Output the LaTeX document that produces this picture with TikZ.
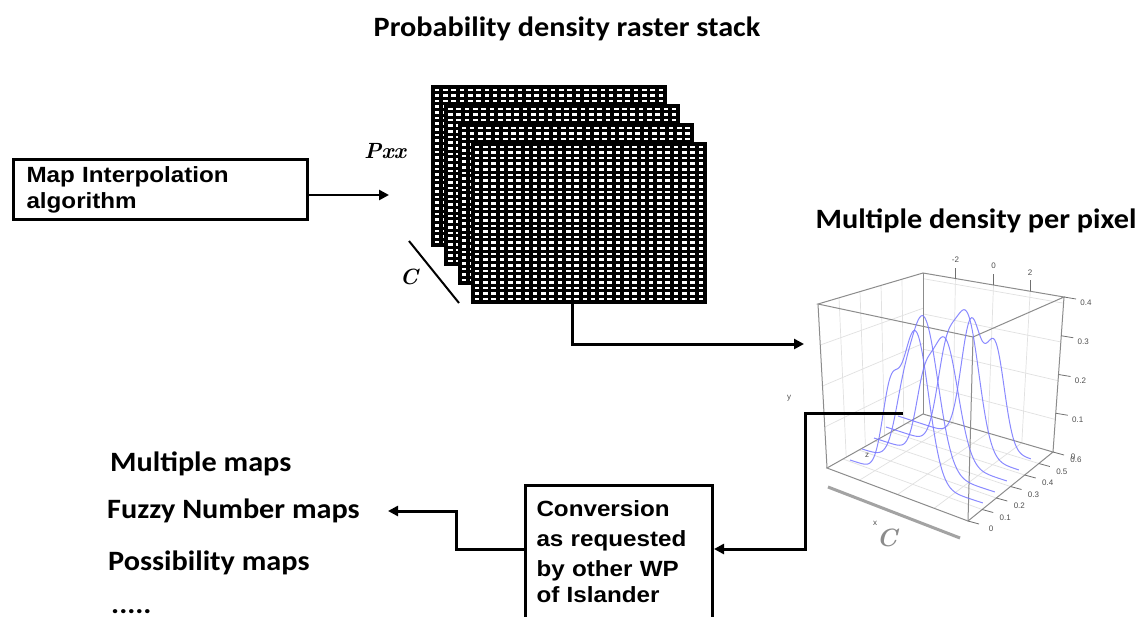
\documentclass[tikz,border=0pt]{standalone}
\usepackage{fontspec}
\usetikzlibrary{arrows.meta,calc}
\newfontfamily\boxfont{Liberation Sans}[FakeStretch=1.1]
\newfontfamily\headfont{Carlito}[FakeStretch=1.08]
\newfontfamily\tickfont{Liberation Sans}
\definecolor{curveblue}{RGB}{118,118,255}
\definecolor{edgegray}{RGB}{140,140,140}
\definecolor{gridgray}{RGB}{225,225,225}
\definecolor{ticktext}{RGB}{80,80,80}
\tikzset{
  head/.style={font=\headfont\bfseries\fontsize{28}{32}\selectfont, inner sep=0pt},
  procbox/.style={draw, line width=3pt, font=\boxfont\bfseries\fontsize{22}{26}\selectfont,
                  align=left, anchor=north west},
  flow/.style={line width=3pt, -{Triangle[length=10pt,width=10pt]}},
  gridl/.style={gridgray, line width=0.7pt},
  edge/.style={edgegray, line width=1pt},
  tick/.style={edgegray!80!black, line width=0.8pt},
  ticklab/.style={font=\tickfont\fontsize{8}{9}\selectfont, text=ticktext, inner sep=0pt},
  curve/.style={curveblue, line width=1pt, opacity=0.85},
  mathlab/.style={font=\bfseries\itshape\fontsize{22}{24}\selectfont, inner sep=0pt},
}
\begin{document}
\begin{tikzpicture}[x=1pt,y=-1pt]
\path[use as bounding box, clip] (0,0) rectangle (1142,616);
\fill[white] (0,0) rectangle (1142,616);

% ---- headings ----
\node[head] (title) at (567,29) {Probability density raster stack};
\node[head] (plottitle) at (976,221) {Multiple density per pixel};

% ---- interpolation box ----
\node[procbox, minimum width=293pt, minimum height=60pt, text width=268pt,
      inner xsep=13pt, inner ysep=4pt] (map) at (12,158)
  {\baselineskip=27pt Map Interpolation\\algorithm};
\coordinate (stackin) at (389,195);
\draw[flow, line width=2.5pt] (map.east |- stackin) -- (stackin);

% ---- raster stack: four gridded sheets ----
\foreach \k in {0,...,3}{
  \pgfmathsetmacro\xa{433+13.33*\k}
  \pgfmathsetmacro\ya{87+19*\k}
  \fill[white] (\xa,\ya) rectangle ++(232,158);
  \foreach \i in {0,...,28}
    \draw[line width=3.6pt] ({\xa+\i*232/28},\ya) -- ++(0,158);
  \foreach \j in {0,...,28}
    \draw[line width=3pt] (\xa,{\ya+\j*158/28}) -- ++(232,0);
  \draw[line width=4pt] (\xa,\ya) rectangle ++(232,158);
}
\node[mathlab] (pxx) at (385,151) {Pxx};
\node[mathlab] (clab) at (409,277) {C};
\coordinate (ca) at (409,241);
\coordinate (cb) at (459,303);
\draw[line width=2pt] (ca) -- (cb);

% ---- connector from a pixel to the density plot ----
\coordinate (pix) at (572,207);
\coordinate (plotin) at (804,344);
\draw[flow] (pix) |- (plotin);

% ---- 3D density plot ----
\coordinate (LT) at (818,304);
\coordinate (BT) at (923,273);
\coordinate (RT) at (1064,297);
\coordinate (FT) at (973,337);
\coordinate (LB) at (827,468);
\coordinate (BB) at (923,414);
\coordinate (RB) at (1053,452);
\coordinate (FB) at (968,521);

% grid on the walls and the floor
\foreach \f in {0.2,0.4,0.6,0.8}{
  \draw[gridl] ($(LT)!\f!(BT)$) -- ($(LB)!\f!(BB)$);
}
\foreach \f in {0.25,0.5,0.75}{
  \draw[gridl] ($(LT)!\f!(LB)$) -- ($(BT)!\f!(BB)$);
}
\foreach \f in {0.23,0.5,0.76}{
  \draw[gridl] ($(BT)!\f!(RT)$) -- ($(BB)!\f!(RB)$);
  \draw[gridl] ($(LB)!\f!(FB)$) -- ($(BB)!\f!(RB)$);
}
\foreach \f in {0.04,0.29,0.54,0.79}{
  \draw[gridl] ($(BT)!\f!(BB)$) -- ($(RT)!\f!(RB)$);
}
\foreach \g in {0.1667,0.3333,0.5,0.6667,0.8333}{
  \draw[gridl] ($(FB)!\g!(RB)$) -- ($(LB)!\g!(BB)$);
}

% box edges
\draw[edge] (LT) -- (BT) -- (RT) -- (FT) -- cycle;
\draw[edge] (LB) -- (BB) -- (RB) -- (FB) -- cycle;
\draw[edge] (LT) -- (LB);
\draw[edge] (BT) -- (BB);
\draw[edge] (RT) -- (RB);
\draw[edge] (FT) -- (FB);

% density curves, one per depth slice
\foreach \sx/\sy/\ex/\ey/\aa/\ma/\sa/\ab/\mb/\sb in {
    850/460/983/503/70/0.30/0.06/150/0.49/0.10,
    862/449/995/492/30/0.30/0.06/152/0.46/0.11,
    874/438/1007/481/50/0.37/0.06/122/0.53/0.10,
    886/427/1019/470/80/0.45/0.07/135/0.61/0.09,
    898/416/1031/459/118/0.55/0.075/100/0.73/0.07}{
  \draw[curve] plot[domain=0:1, samples=100, smooth, variable=\t]
    ({\sx+\t*(\ex-\sx)},
     {\sy+\t*(\ey-\sy)-\aa*exp(-((\t-\ma)*(\t-\ma))/(2*\sa*\sa))-\ab*exp(-((\t-\mb)*(\t-\mb))/(2*\sb*\sb))});
}

% top axis ticks
\foreach \f/\lab in {0.23/-2,0.5/0,0.76/2}{
  \draw[tick] ($(BT)!\f!(RT)$) -- ++(0,-11);
  \node[ticklab] at ($(BT)!\f!(RT)+(0,-19)$) {\lab};
}
% vertical axis ticks
\foreach \f/\lab in {0/0.4,0.25/0.3,0.5/0.2,0.75/0.1}{
  \draw[tick] ($(RT)!\f!(RB)$) -- ++(12,2);
  \node[ticklab] at ($(RT)!\f!(RB)+(22,6)$) {\lab};
}
\node[ticklab] at ($(RB)+(20,5)$) {0};
% depth axis ticks
\foreach \g/\lab in {0/0,0.1667/0.1,0.3333/0.2,0.5/0.3,0.6667/0.4,0.8333/0.5,1/0.6}{
  \draw[tick] ($(FB)!\g!(RB)$) -- ++(11,3);
  \node[ticklab] at ($(FB)!\g!(RB)+(23,8)$) {\lab};
}
\node[ticklab] (ylab) at (789,398) {y};
\node[ticklab] (zlab) at (867,455) {z};
\node[ticklab] (xlab) at (875,523) {x};
\coordinate (tla) at (828,487);
\coordinate (tlb) at (960,538);
\draw[edgegray!80, line width=3pt] (tla) -- (tlb);
\node[font=\bfseries\itshape\fontsize{25}{26}\selectfont, text=edgegray, inner sep=0pt] (degc) at (887,538) {C};

% ---- conversion box (its lower edge runs past the page) ----
\node[procbox, minimum width=187pt, text width=165pt, inner xsep=11pt, inner ysep=15pt] (conv) at (524,484)
  {\baselineskip=30pt Conversion\\as requested\\by other WP\\of Islander\rule[-12pt]{0pt}{0pt}};

\coordinate (plotout) at (903,413);
\coordinate (bend) at (805,413);
\draw[flow] (plotout) -- (bend) |- ($(conv.north east)+(0,65)$);

\coordinate (elbow) at (456,511);
\coordinate (mapsout) at (388,511);
\draw[flow] ($(conv.north west)+(0,65)$) -| (elbow) -- (mapsout);

% ---- resulting products ----
\node[head, anchor=west] (mm) at (110,464) {Multiple maps};
\node[head, anchor=west] (fz) at (107,511) {Fuzzy Number maps};
\node[head, anchor=west] (ps) at (108,563) {Possibility maps};
\node[head, anchor=west] (dots) at (111,612) {.....};
\end{tikzpicture}
\end{document}
